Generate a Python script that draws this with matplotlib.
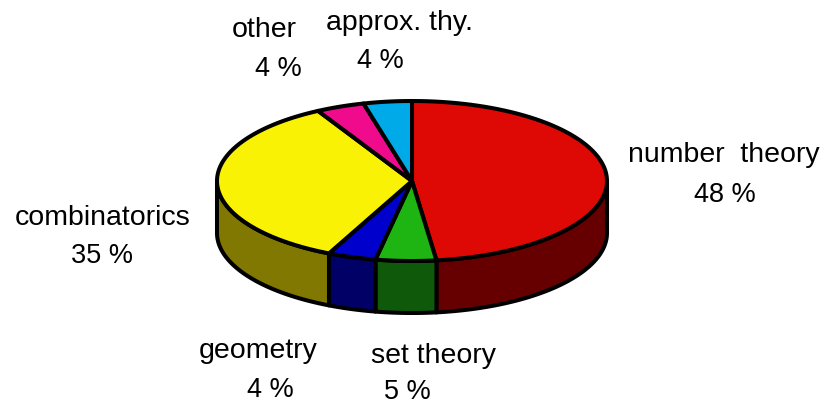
#!/usr/bin/env python3
import numpy as np
import matplotlib
matplotlib.use('Agg')
import matplotlib.pyplot as plt
from matplotlib.patches import Polygon

names = ['number  theory', 'set theory', 'geometry', 'combinatorics', 'other', 'approx. thy.']
shares = [48, 5, 4, 35, 4, 4]
pct_labels = ['48 %', '5 %', '4 %', '35 %', '4 %', '4 %']
top_colors = ['#de0805', '#1eb512', '#0000cc', '#faf205', '#f00a8c', '#00aae8']
side_colors = ['#660000', '#0f5a0a', '#000066', '#807800', '#7a044e', '#045a7a']
name_pos = [(724, 155), (434, 356), (258, 351), (103, 218), (264, 30), (400, 23)]
pct_pos = [(725, 195), (407, 392), (270, 390), (102, 256), (278, 69), (380, 61)]

cx, cy = 412, 181
rx, ry = 195, 80
depth = 52
edge = 2.9

fig = plt.figure(figsize=(8.24, 4.04), dpi=100)
ax = fig.add_axes([0, 0, 1, 1])
ax.set_xlim(0, 824)
ax.set_ylim(404, 0)
ax.axis('off')


def rim(a, b, n=80):
    t = np.radians(np.linspace(a, b, n))
    return cx + rx * np.cos(t), cy - ry * np.sin(t)


angles = 90 - np.cumsum([0] + shares) * 3.6

# side wall, only the part facing us (angles below the horizontal)
for i in range(len(shares)):
    lo = max(angles[i + 1], -180)
    hi = min(angles[i], 0)
    if lo < hi:
        x, y = rim(hi, lo)
        pts = np.r_[np.c_[x, y], np.c_[x[::-1], y[::-1] + depth]]
        ax.add_patch(Polygon(pts, fc=side_colors[i], ec='black', lw=edge, joinstyle='round'))

# top face
for i in range(len(shares)):
    x, y = rim(angles[i], angles[i + 1])
    pts = np.r_[[[cx, cy]], np.c_[x, y]]
    ax.add_patch(Polygon(pts, fc=top_colors[i], ec='black', lw=edge, joinstyle='round'))

for i in range(len(names)):
    ax.text(*name_pos[i], names[i], ha='center', va='center', fontsize=20.5, family='Liberation Sans', color='black')
    ax.text(*pct_pos[i], pct_labels[i], ha='center', va='center', fontsize=19.5, family='Liberation Sans', color='black')

fig.savefig('out.png', dpi=100)
